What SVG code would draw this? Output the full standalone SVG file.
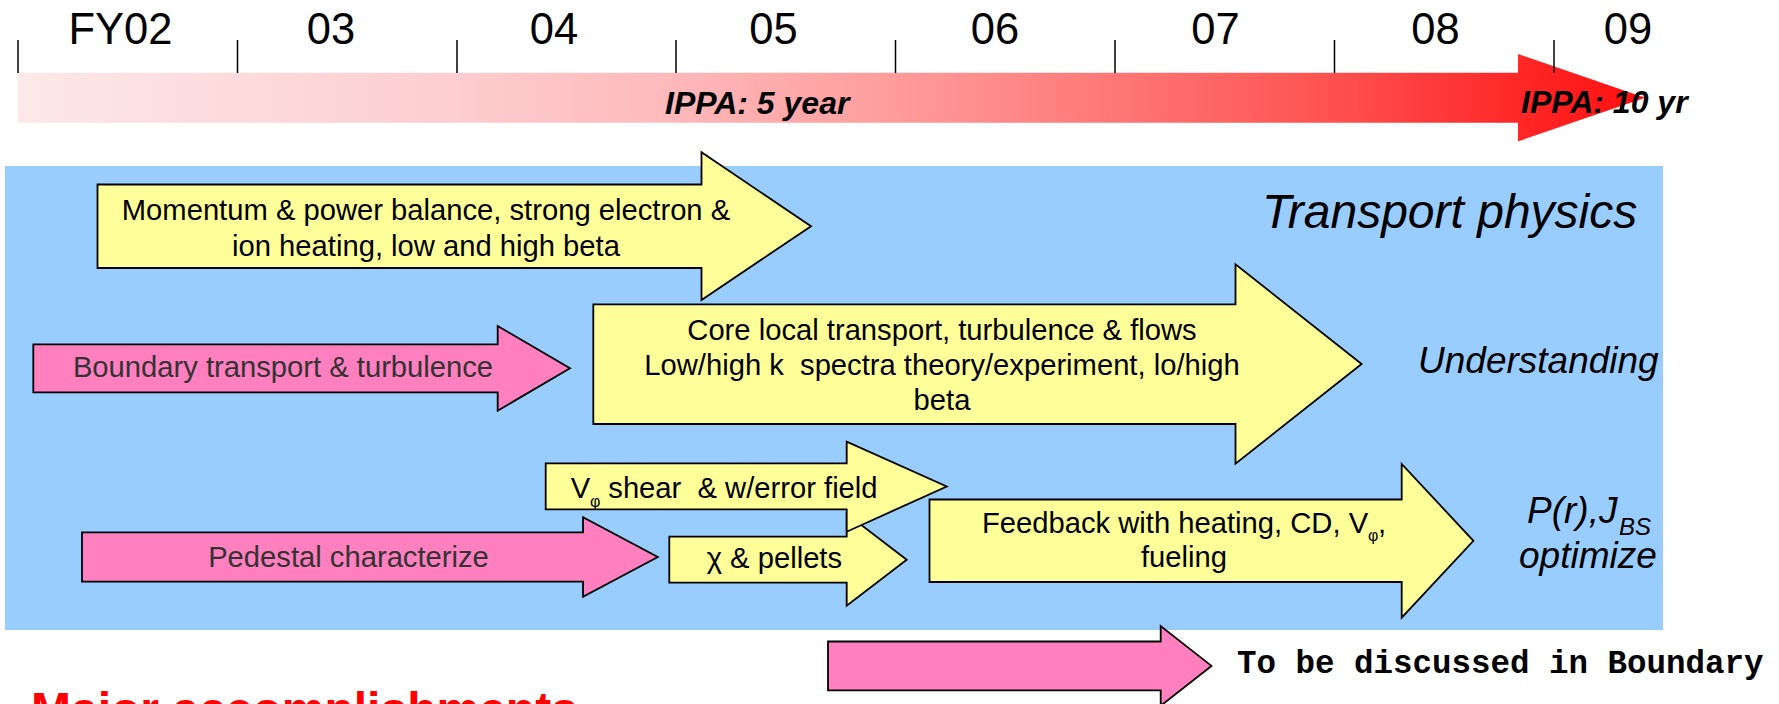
<svg xmlns="http://www.w3.org/2000/svg" width="1779" height="704" viewBox="0 0 1779 704">
<defs>
<linearGradient id="barGrad" gradientUnits="userSpaceOnUse" x1="18" y1="0" x2="1645" y2="0">
<stop offset="0" stop-color="#FDE8EA"/>
<stop offset="0.27" stop-color="#FDCDCF"/>
<stop offset="0.40" stop-color="#FEB9BB"/>
<stop offset="0.54" stop-color="#FF9B9B"/>
<stop offset="0.67" stop-color="#FF7878"/>
<stop offset="0.81" stop-color="#FF5050"/>
<stop offset="0.92" stop-color="#FF2828"/>
<stop offset="1" stop-color="#FF0F0F"/>
</linearGradient>
</defs>
<style>
text{font-family:"Liberation Sans",Arial,sans-serif}
.yr{font-size:43.5px;fill:#000;text-anchor:middle}
.tick{stroke:#000;stroke-width:1.5}
.ippa{font-size:32px;font-weight:bold;font-style:italic;fill:#000}
.yel{fill:#FFFF99;stroke:#000;stroke-width:1.8;stroke-linejoin:miter}
.pink{fill:#FF7FBF;stroke:#000;stroke-width:1.8;stroke-linejoin:miter}
.t{font-size:29.2px;fill:#000}
.tg{font-size:29.2px;fill:#333333}
.mid{text-anchor:middle}
.lab{font-style:italic;fill:#000}
.mono{font-family:"Liberation Mono","Courier New",monospace;font-weight:bold;font-size:32.5px;fill:#000}
.big{font-size:48px;font-weight:bold;fill:#FF0000}
</style>
<g id="timeline">
<polygon points="18,72.7 1518,72.7 1518,54 1645,97.7 1518,141.4 1518,122.7 18,122.7" fill="url(#barGrad)"/>
<line class="tick" x1="18" y1="40" x2="18" y2="73"/>
<line class="tick" x1="237.5" y1="40" x2="237.5" y2="73"/>
<line class="tick" x1="457" y1="40" x2="457" y2="73"/>
<line class="tick" x1="676" y1="40" x2="676" y2="73"/>
<line class="tick" x1="895.5" y1="40" x2="895.5" y2="73"/>
<line class="tick" x1="1115" y1="40" x2="1115" y2="73"/>
<line class="tick" x1="1334.5" y1="40" x2="1334.5" y2="73"/>
<line class="tick" x1="1554" y1="40" x2="1554" y2="73"/>
<text class="yr" x="120.5" y="44">FY02</text>
<text class="yr" x="331" y="44">03</text>
<text class="yr" x="554" y="44">04</text>
<text class="yr" x="773.5" y="44">05</text>
<text class="yr" x="995" y="44">06</text>
<text class="yr" x="1215.5" y="44">07</text>
<text class="yr" x="1435.5" y="44">08</text>
<text class="yr" x="1628" y="44">09</text>
<text class="ippa" x="665" y="114">IPPA: 5 year</text>
<text class="ippa" x="1521" y="112.5">IPPA: 10 yr</text>
</g>
<g id="panel">
<rect x="5" y="166" width="1658" height="464" fill="#99CCFF"/>
<text class="lab" x="1262" y="227.7" style="font-size:48px">Transport physics</text>
<text class="lab" x="1418" y="372.7" style="font-size:37px">Understanding</text>
<text class="lab" x="1527" y="523.3" style="font-size:37px">P(r),J<tspan x="1619" y="535" style="font-size:24px">BS</tspan></text>
<text class="lab" x="1519" y="568" style="font-size:37px">optimize</text>
</g>
<g id="node-momentum">
<polygon class="yel" points="97.5,184.5 701.5,184.5 701.5,152.3 811,226.2 701.5,300 701.5,268 97.5,268"/>
<text class="t mid" x="426" y="220">Momentum &amp; power balance, strong electron &amp;</text>
<text class="t mid" x="426" y="256">ion heating, low and high beta</text>
</g>
<g id="node-boundary">
<polygon class="pink" points="33.3,344.3 497.7,344.3 497.7,326 570,368.3 497.7,410.7 497.7,392.3 33.3,392.3"/>
<text class="tg mid" x="283" y="377.3">Boundary transport &amp; turbulence</text>
</g>
<g id="node-core">
<polygon class="yel" points="593.3,304.3 1235.5,304.3 1235.5,264.3 1361.6,364 1235.5,463.7 1235.5,424 593.3,424"/>
<text class="t mid" x="942" y="339.5">Core local transport, turbulence &amp; flows</text>
<text class="t mid" x="942" y="374.5" xml:space="preserve">Low/high k  spectra theory/experiment, lo/high</text>
<text class="t mid" x="942" y="409.5">beta</text>
</g>
<g id="node-chi">
<polygon class="yel" points="669.3,536.7 846.7,536.7 846.7,513.7 906.7,559.7 846.7,605.7 846.7,582.7 669.3,582.7"/>
<text class="t" x="706.7" y="568.3">χ &amp; pellets</text>
</g>
<g id="node-vshear">
<polygon class="yel" points="545.7,463.3 846.7,463.3 846.7,441.7 946.7,486.5 846.7,531.7 846.7,509.3 545.7,509.3"/>
<text class="t" x="570.7" y="498.3">V<tspan x="590" y="506.5" style="font-size:16px">φ</tspan><tspan x="608.3" y="498.3" xml:space="preserve">shear  &amp; w/error field</tspan></text>
</g>
<g id="node-pedestal">
<polygon class="pink" points="82,532.3 583,532.3 583,517.3 657.8,557 583,596.7 583,581.7 82,581.7"/>
<text class="tg mid" x="348.5" y="566.7">Pedestal characterize</text>
</g>
<g id="node-feedback">
<polygon class="yel" points="929.5,499.5 1401.7,499.5 1401.7,464 1473.4,540.8 1401.7,617.6 1401.7,582 929.5,582"/>
<text class="t" x="982" y="532.7">Feedback with heating, CD, V<tspan x="1368" y="541" style="font-size:16px">φ</tspan><tspan x="1378" y="532.7">,</tspan></text>
<text class="t mid" x="1184" y="567.3">fueling</text>
</g>
<g id="node-boundary-discuss">
<polygon class="pink" points="828,641.5 1160.7,641.5 1160.7,626 1211.5,665.9 1160.7,705.8 1160.7,690.3 828,690.3"/>
<text class="mono" x="1237" y="672.7">To be discussed in Boundary</text>
</g>
<g id="title-major">
<text class="big" x="31" y="726">Major accomplishments</text>
</g>
<g id="connectors"/>
</svg>
